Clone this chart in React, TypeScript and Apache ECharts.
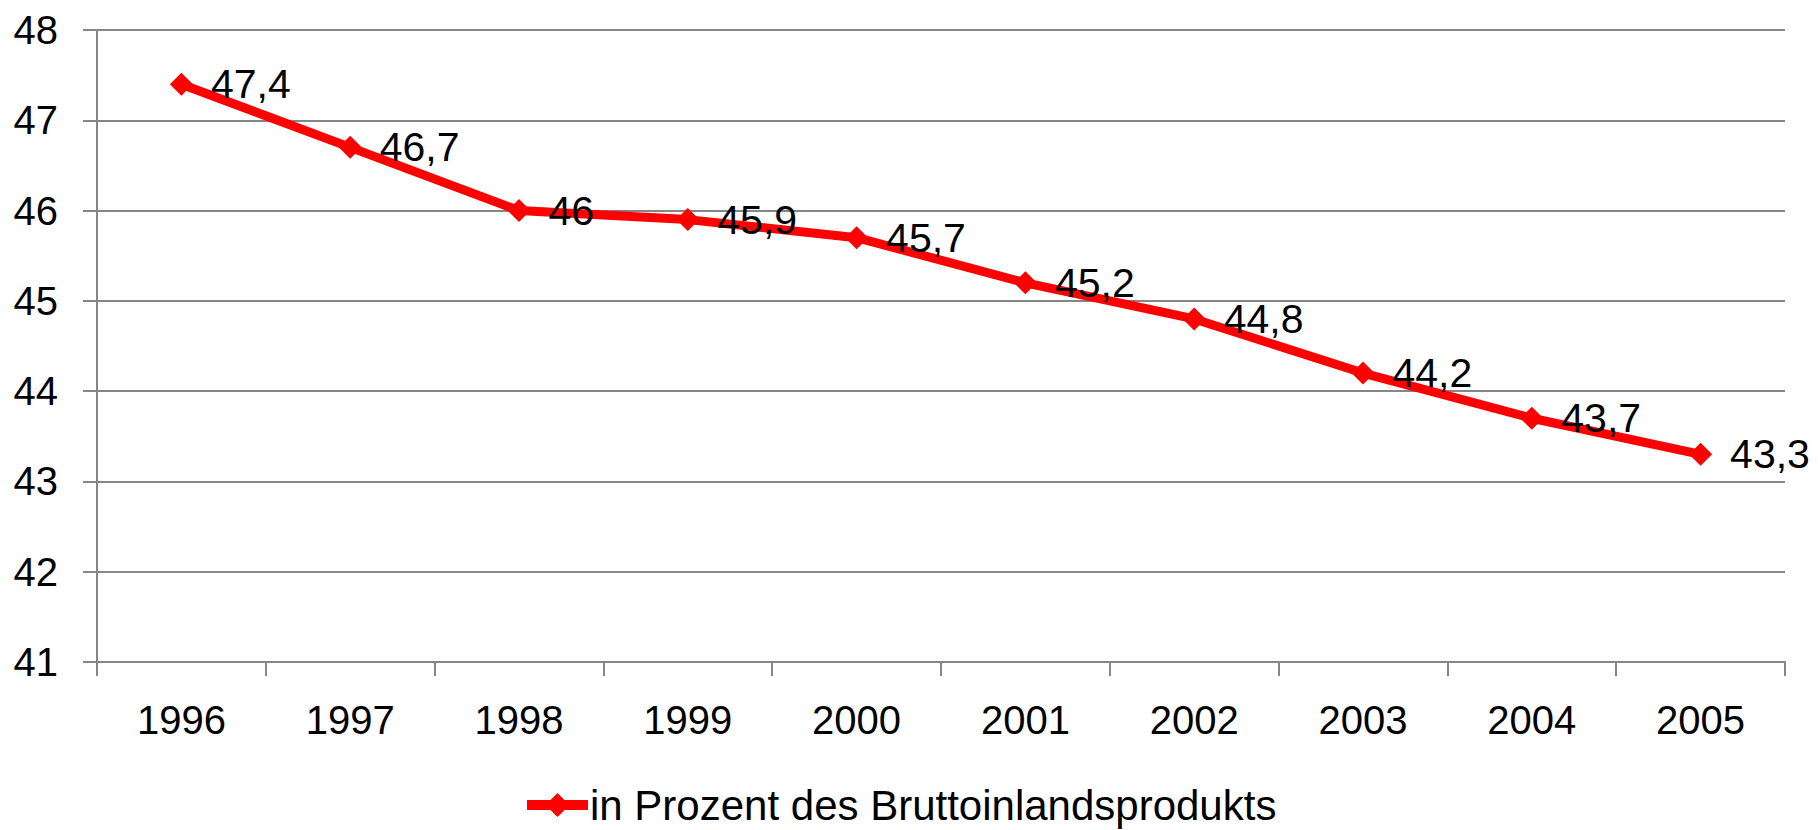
import React, { useEffect, useRef } from "react";
import * as echarts from "echarts";

const years = ["1996", "1997", "1998", "1999", "2000", "2001", "2002", "2003", "2004", "2005"];
const values = [47.4, 46.7, 46, 45.9, 45.7, 45.2, 44.8, 44.2, 43.7, 43.3];
const seriesName = "in Prozent des Bruttoinlandsprodukts";

export default function App() {
  const ref = useRef<HTMLDivElement>(null);
  useEffect(() => {
    if (!ref.current) return;
    const chart = echarts.init(ref.current, undefined, { renderer: "svg" });
    const font = "'Liberation Sans', Arial, sans-serif";
    chart.setOption({
      animation: false,
      backgroundColor: "#ffffff",
      grid: { left: 97, right: 33, top: 30, bottom: 168, containLabel: false },
      legend: {
        left: 522,
        top: 783,
        padding: 0,
        itemWidth: 61,
        itemHeight: 30,
        itemGap: 0,
        lineStyle: { width: 10 },
        textStyle: { fontFamily: font, fontSize: 42, lineHeight: 44, color: "#000", padding: [0, 0, 0, -3] },
        data: [seriesName],
      },
      xAxis: {
        type: "category",
        data: years,
        boundaryGap: true,
        axisLine: { lineStyle: { color: "#868686", width: 2 } },
        axisTick: { show: true, length: 14, lineStyle: { color: "#868686", width: 2 } },
        axisLabel: { margin: 38, fontFamily: font, fontSize: 40, color: "#000" },
      },
      yAxis: {
        type: "value",
        min: 41,
        max: 48,
        interval: 1,
        axisLine: { show: true, lineStyle: { color: "#868686", width: 2 } },
        axisTick: { show: true, length: 14, lineStyle: { color: "#868686", width: 2 } },
        splitLine: { lineStyle: { color: "#868686", width: 2 } },
        axisLabel: { margin: 39, fontFamily: font, fontSize: 40, color: "#000" },
      },
      series: [
        {
          name: seriesName,
          type: "line",
          data: values,
          symbol: "diamond",
          symbolSize: 23,
          itemStyle: { color: "#ff0000" },
          lineStyle: { color: "#ff0000", width: 9 },
          label: {
            show: true,
            position: "right",
            distance: 18,
            fontFamily: font,
            fontSize: 41,
            color: "#000",
            formatter: (p: any) => String(p.value).replace(".", ","),
          },
        },
      ],
    });
    return () => chart.dispose();
  }, []);
  return (
    <div
      ref={ref}
      style={{ position: "fixed", left: 0, top: 0, width: 1818, height: 830, background: "#fff" }}
    />
  );
}
